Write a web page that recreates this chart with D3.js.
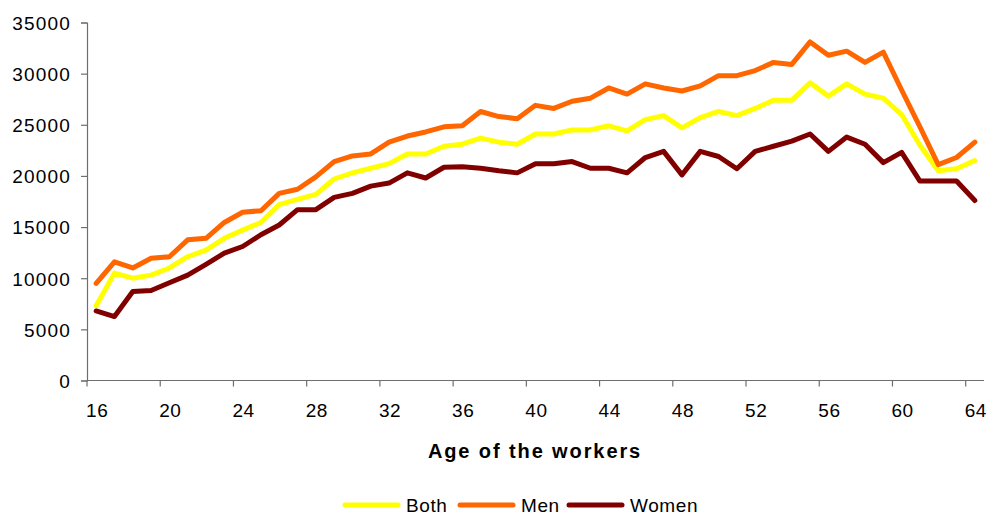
<!DOCTYPE html>
<html>
<head>
<meta charset="utf-8">
<script src="https://cdn.jsdelivr.net/npm/d3@7"></script>
<style>
  html, body { margin: 0; padding: 0; background: #fff; }
  svg { display: block; font-family: "Liberation Sans", Arial, sans-serif; }
</style>
</head>
<body>
<svg id="chart" width="988" height="515"></svg>
<script>
// ---- data ----
const ages = d3.range(16, 65);
const xTickLabels = [16, 20, 24, 28, 32, 36, 40, 44, 48, 52, 56, 60, 64];
const yTickValues = [0, 5000, 10000, 15000, 20000, 25000, 30000, 35000];
const seriesNames = ["Both", "Men", "Women"];
const seriesColors = ["#FFFF00", "#FF6600", "#800000"];
const bothValues = [
  7300, 10500, 10000, 10300, 11000, 12100, 12750, 13900, 14700, 15450,
  17200, 17700, 18200, 19700, 20300, 20750, 21200, 22150, 22150, 22900,
  23100, 23700, 23300, 23100, 24100, 24100, 24500, 24500, 24900, 24400,
  25500, 25900, 24700, 25700, 26300, 25900, 26600, 27400, 27400, 29100,
  27800, 29000, 28000, 27600, 26000, 23000, 20500, 20700, 21500
];
const menValues = [
  9500, 11600, 11000, 11950, 12100, 13750, 13900, 15450, 16450, 16600,
  18300, 18700, 19900, 21400, 21950, 22150, 23300, 23900, 24300, 24800,
  24900, 26300, 25800, 25600, 26900, 26600, 27300, 27600, 28600, 28000,
  29000, 28600, 28300, 28800, 29800, 29800, 30300, 31100, 30900, 33100,
  31800, 32200, 31100, 32100, 28400, 24800, 21100, 21800, 23300
];
const womenValues = [
  6800, 6250, 8700, 8800, 9550, 10300, 11350, 12450, 13100, 14250,
  15200, 16700, 16700, 17900, 18300, 19000, 19300, 20300, 19800, 20850,
  20900, 20750, 20500, 20300, 21200, 21200, 21400, 20750, 20750, 20300,
  21800, 22400, 20100, 22400, 21900, 20700, 22400, 22900, 23400, 24100,
  22400, 23800, 23100, 21300, 22300, 19500, 19500, 19500, 17600
];
const xTitle = "Age of the workers";

// ---- layout ----
const svg = d3.select("#chart");
const plotLeft = 87, plotRight = 984, plotTop = 22.5, plotBottom = 380.5;
const axisColor = "#6e6e6e";

const x = d3.scaleBand().domain(ages).range([plotLeft, plotRight]).padding(0);
const y = d3.scaleLinear().domain([0, 35000]).range([plotBottom, plotTop]);
const bw = x.bandwidth();

// y axis
const yAxis = d3.axisLeft(y).tickValues(yTickValues).tickSize(6).tickPadding(10)
  .tickFormat(d3.format("d"));
const gy = svg.append("g").attr("transform", `translate(${plotLeft},0)`).call(yAxis);
gy.select(".domain").attr("stroke", axisColor).attr("stroke-width", 1.2);
gy.selectAll(".tick line").attr("stroke", axisColor).attr("stroke-width", 1.2);
gy.selectAll(".tick text")
  .attr("font-size", 19).attr("fill", "#000")
  .attr("font-family", "'Liberation Sans', Arial, sans-serif")
  .attr("letter-spacing", "1.2px")
  .attr("dy", "0.36em");

// x axis (category axis: ticks at category boundaries, labels centered)
const gx = svg.append("g");
gx.append("line")
  .attr("x1", plotLeft).attr("x2", plotRight)
  .attr("y1", plotBottom).attr("y2", plotBottom)
  .attr("stroke", axisColor).attr("stroke-width", 1.2);
gx.selectAll("line.tick").data(xTickLabels).join("line")
  .attr("class", "tick")
  .attr("x1", d => x(d)).attr("x2", d => x(d))
  .attr("y1", plotBottom).attr("y2", plotBottom + 6)
  .attr("stroke", axisColor).attr("stroke-width", 1.2);
gx.selectAll("text").data(xTickLabels).join("text")
  .attr("x", d => x(d) + bw / 2 + 1)
  .attr("y", plotBottom + 36.5)
  .attr("text-anchor", "middle")
  .attr("font-size", 19)
  .attr("letter-spacing", "0.6px")
  .text(d => d);

// x title
svg.append("text")
  .attr("x", 535).attr("y", 458)
  .attr("text-anchor", "middle")
  .attr("font-size", 20).attr("font-weight", "bold")
  .attr("letter-spacing", "1.9px")
  .text(xTitle);

// lines
const allValues = [bothValues, menValues, womenValues];
const line = d3.line()
  .x((d, i) => x(ages[i]) + bw / 2)
  .y(d => y(d));
seriesNames.forEach((name, k) => {
  svg.append("path")
    .datum(allValues[k])
    .attr("d", line)
    .attr("fill", "none")
    .attr("stroke", seriesColors[k])
    .attr("stroke-width", 5)
    .attr("stroke-linejoin", "round")
    .attr("stroke-linecap", "round");
});

// legend
const legendX = [343, 458, 567];
const lg = svg.append("g");
seriesNames.forEach((name, k) => {
  lg.append("line")
    .attr("x1", legendX[k] + 2).attr("x2", legendX[k] + 55)
    .attr("y1", 505).attr("y2", 505)
    .attr("stroke", seriesColors[k]).attr("stroke-width", 5)
    .attr("stroke-linecap", "round");
  lg.append("text")
    .attr("x", legendX[k] + 63).attr("y", 512)
    .attr("font-size", 19)
    .attr("letter-spacing", "0.6px")
    .text(name);
});
</script>
</body>
</html>
